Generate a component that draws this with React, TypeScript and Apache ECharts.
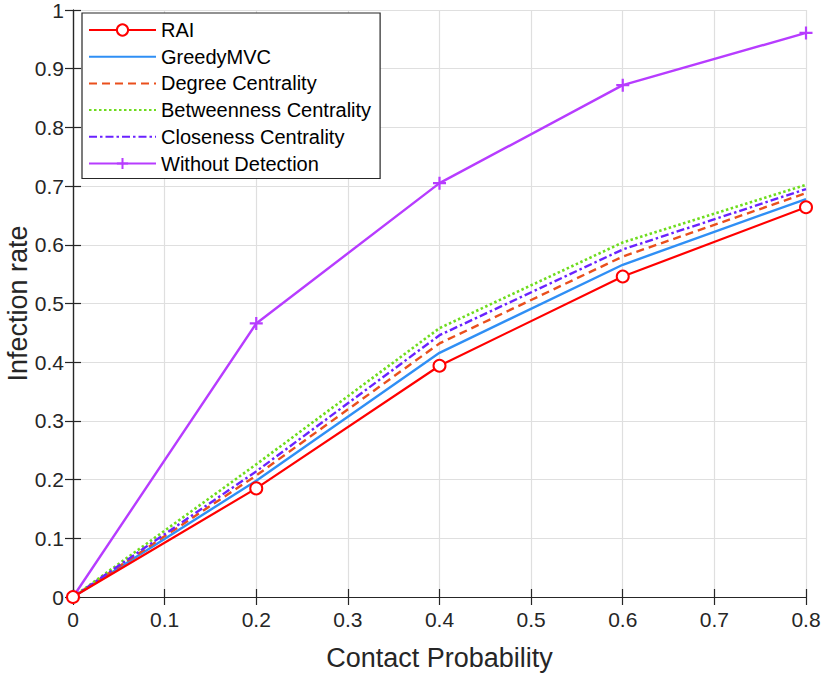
import React, { useEffect, useRef } from "react";
import * as echarts from "echarts";

const xValues = [0, 0.2, 0.4, 0.6, 0.8];
const raiValues = [0, 0.185, 0.394, 0.546, 0.664];
const greedyValues = [0, 0.198, 0.416, 0.566, 0.678];
const degreeValues = [0, 0.207, 0.432, 0.58, 0.688];
const betweennessValues = [0, 0.226, 0.458, 0.604, 0.702];
const closenessValues = [0, 0.214, 0.446, 0.592, 0.695];
const withoutValues = [0, 0.466, 0.705, 0.872, 0.961];

const seriesNames = [
  "RAI",
  "GreedyMVC",
  "Degree Centrality",
  "Betweenness Centrality",
  "Closeness Centrality",
  "Without Detection",
];

const FONT = "Liberation Sans, Arial, Helvetica, sans-serif";
const AXIS_COLOR = "#262626";

const pairs = (ys: number[]) => xValues.map((x, i) => [x, ys[i]]);

export default function App() {
  const ref = useRef<HTMLDivElement>(null);
  useEffect(() => {
    document.body.style.margin = "0";
    if (!ref.current) return;
    const chart = echarts.init(ref.current, undefined, { renderer: "svg" });
    const baseAxis = {
      min: 0,
      interval: 0.1,
      axisLine: { show: true, lineStyle: { color: AXIS_COLOR, width: 1.2 } },
      axisTick: { show: true, inside: true, length: 8, lineStyle: { color: AXIS_COLOR, width: 1.2 } },
      splitLine: { show: false },
    };
    const plainLine = (name: string, values: number[], color: string, width: number, type: any) => ({
      name,
      type: "line",
      data: pairs(values),
      symbol: "circle",
      showSymbol: false,
      lineStyle: { color, width, type },
      itemStyle: { color: "transparent", opacity: 0 },
    });
    chart.setOption({
      animation: false,
      backgroundColor: "#ffffff",
      textStyle: { fontFamily: FONT },
      grid: {
        left: 73,
        right: 15,
        top: 10,
        bottom: 76,
        containLabel: false,
        outerBoundsMode: "none",
      },
      legend: {
        orient: "vertical",
        left: 82,
        top: 13,
        data: seriesNames,
        itemWidth: 67,
        itemHeight: 14,
        itemGap: 6.7,
        padding: [7, 9, 5, 6],
        borderColor: AXIS_COLOR,
        borderWidth: 1.2,
        backgroundColor: "#ffffff",
        textStyle: { fontFamily: FONT, fontSize: 20, lineHeight: 20, color: "#000000" },
      },
      xAxis: [
        {
          ...baseAxis,
          type: "value",
          max: 0.8,
          position: "bottom",
          name: "Contact Probability",
          nameLocation: "middle",
          nameGap: 47,
          nameMoveOverlap: false,
          nameTextStyle: { fontFamily: FONT, fontSize: 27, color: AXIS_COLOR },
          axisLabel: { fontFamily: FONT, fontSize: 21, color: AXIS_COLOR, margin: 12 },
          splitLine: { show: true, lineStyle: { color: "#dfdfdf", width: 1.2 } },
        },
        {
          ...baseAxis,
          type: "value",
          max: 0.8,
          position: "top",
          axisLabel: { show: false },
        },
      ],
      yAxis: [
        {
          ...baseAxis,
          type: "value",
          max: 1,
          position: "left",
          name: "Infection rate",
          nameLocation: "middle",
          nameGap: 42,
          nameMoveOverlap: false,
          nameTextStyle: { fontFamily: FONT, fontSize: 27, color: AXIS_COLOR },
          axisLabel: { fontFamily: FONT, fontSize: 21, lineHeight: 18, color: AXIS_COLOR, margin: 9 },
          splitLine: { show: true, lineStyle: { color: "#dfdfdf", width: 1.2 } },
        },
        {
          ...baseAxis,
          type: "value",
          max: 1,
          position: "right",
          axisLabel: { show: false },
        },
      ],
      series: [
        {
          name: seriesNames[0],
          type: "line",
          data: pairs(raiValues),
          symbol: "emptyCircle",
          symbolSize: 12,
          z: 6,
          lineStyle: { color: "#ff0000", width: 2.2 },
          itemStyle: { color: "#ff0000", borderColor: "#ff0000", borderWidth: 2 },
        },
        plainLine(seriesNames[1], greedyValues, "#2f8ff5", 2.4, "solid"),
        plainLine(seriesNames[2], degreeValues, "#ea4f1c", 2.4, [8, 5]),
        plainLine(seriesNames[3], betweennessValues, "#6edc1e", 2.6, [2.5, 2.5]),
        plainLine(seriesNames[4], closenessValues, "#6a22ff", 2.4, [8, 3, 2.5, 3]),
        {
          name: seriesNames[5],
          type: "line",
          data: pairs(withoutValues),
          symbol: "path://M5,0 L5,10 M0,5 L10,5",
          symbolSize: 13,
          lineStyle: { color: "#b73cff", width: 2.4 },
          itemStyle: { color: "none", borderColor: "#b73cff", borderWidth: 2.2 },
        },
      ],
    });
    return () => chart.dispose();
  }, []);
  return <div ref={ref} style={{ width: 821, height: 673 }} />;
}
